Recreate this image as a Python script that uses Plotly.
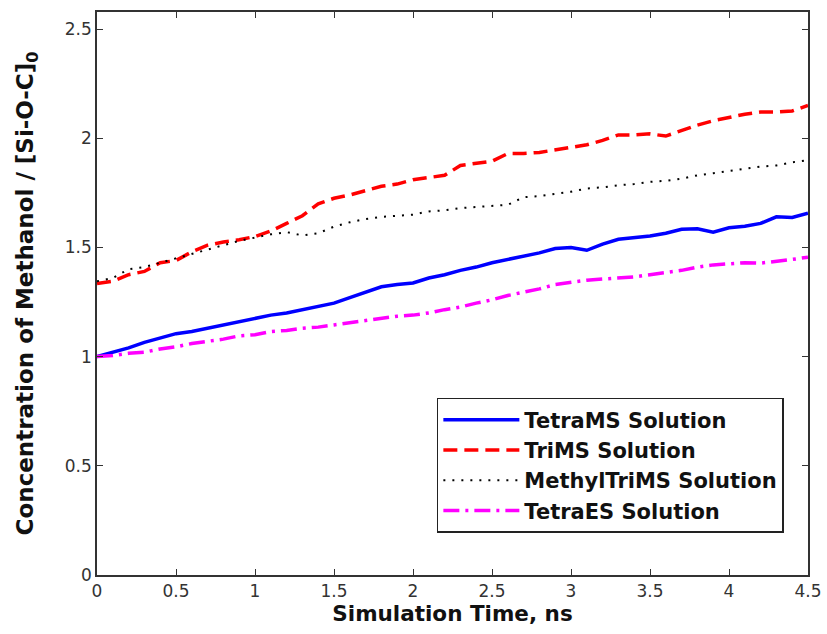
import plotly.graph_objects as go

time_ns = [round(0.1 * i, 1) for i in range(46)]

tetrams = [1.00, 1.02, 1.04, 1.065, 1.085, 1.105, 1.115, 1.13, 1.145, 1.16,
           1.175, 1.19, 1.20, 1.215, 1.23, 1.245, 1.27, 1.295, 1.32, 1.33,
           1.337, 1.36, 1.375, 1.395, 1.41, 1.43, 1.445, 1.46, 1.475, 1.495,
           1.50, 1.487, 1.515, 1.537, 1.545, 1.552, 1.565, 1.583, 1.585, 1.57,
           1.59, 1.597, 1.61, 1.64, 1.637, 1.657]

trims = [1.335, 1.345, 1.375, 1.39, 1.43, 1.44, 1.48, 1.51, 1.525, 1.535,
         1.55, 1.575, 1.61, 1.645, 1.70, 1.725, 1.74, 1.76, 1.78, 1.79,
         1.81, 1.82, 1.83, 1.875, 1.885, 1.895, 1.93, 1.93, 1.935, 1.946,
         1.955, 1.97, 1.99, 2.015, 2.015, 2.02, 2.01, 2.035, 2.06, 2.08,
         2.095, 2.11, 2.12, 2.12, 2.125, 2.15]

methyltrims = [1.345, 1.36, 1.40, 1.41, 1.43, 1.45, 1.47, 1.49, 1.51, 1.53,
               1.545, 1.56, 1.57, 1.555, 1.565, 1.595, 1.615, 1.63, 1.64, 1.645,
               1.65, 1.665, 1.67, 1.68, 1.685, 1.69, 1.695, 1.73, 1.735, 1.745,
               1.755, 1.77, 1.775, 1.785, 1.79, 1.80, 1.805, 1.815, 1.83, 1.84,
               1.85, 1.86, 1.87, 1.875, 1.89, 1.90]

tetraes = [1.00, 1.005, 1.015, 1.02, 1.035, 1.045, 1.06, 1.07, 1.08, 1.095,
           1.10, 1.115, 1.12, 1.13, 1.135, 1.145, 1.155, 1.165, 1.177, 1.185,
           1.19, 1.20, 1.215, 1.227, 1.245, 1.26, 1.28, 1.295, 1.31, 1.33,
           1.34, 1.35, 1.355, 1.36, 1.365, 1.375, 1.385, 1.395, 1.41, 1.42,
           1.425, 1.43, 1.428, 1.435, 1.445, 1.455]

x_ticks = [0, 0.5, 1, 1.5, 2, 2.5, 3, 3.5, 4, 4.5]
x_tick_labels = ["0", "0.5", "1", "1.5", "2", "2.5", "3", "3.5", "4", "4.5"]
y_ticks = [0, 0.5, 1, 1.5, 2, 2.5]
y_tick_labels = ["0", "0.5", "1", "1.5", "2", "2.5"]

series = [
    ("TetraMS Solution", tetrams, "#0000ff", "solid", 3.5),
    ("TriMS Solution", trims, "#ff0000", "14px,7px", 3.5),
    ("MethylTriMS Solution", methyltrims, "#000000", "2px,7px", 2),
    ("TetraES Solution", tetraes, "#ff00ff", "16px,6px,3px,6px", 3.5),
]

fig = go.Figure()
for name, vals, color, dash, w in series:
    fig.add_trace(go.Scatter(
        x=time_ns, y=vals, mode="lines", name=name, legendgroup=name,
        line=dict(color=color, dash=dash, width=w),
    ))

axis_common = dict(
    showline=True, linecolor="#333333", linewidth=1.5, mirror="ticks",
    ticks="inside", ticklen=6, tickcolor="#333333", tickwidth=1.2,
    showgrid=False, zeroline=False, automargin=False,
    tickfont=dict(family="DejaVu Sans", size=17, color="#333333"),
)

fig.update_layout(
    width=827, height=634,
    margin=dict(l=97, r=19, t=12, b=59),
    paper_bgcolor="white", plot_bgcolor="white",
    xaxis=dict(range=[0, 4.5], tickvals=x_ticks, ticktext=x_tick_labels,
               title=dict(text="Simulation Time, ns", standoff=4,
                          font=dict(family="DejaVu Sans", size=21.5, color="#111111", weight="bold")),
               **axis_common),
    yaxis=dict(range=[0, 2.578], tickvals=y_ticks, ticktext=y_tick_labels,
               title=dict(text="Concentration of Methanol / [Si-O-C]<sub>0</sub>", standoff=25,
                          font=dict(family="DejaVu Sans", size=23, color="#111111", weight="bold")),
               **axis_common),
    showlegend=True,
    legend=dict(
        x=0.478, y=0.3144, xanchor="left", yanchor="top",
        bgcolor="white", bordercolor="#222222", borderwidth=1.5,
        font=dict(family="DejaVu Sans", size=21, color="#111111", weight="bold"),
        itemwidth=76, tracegroupgap=0,
    ),
)

fig.write_html(
    "out.html",
    config={"displayModeBar": False},
    post_script="document.body.style.margin='0';document.body.style.overflow='hidden';",
)
